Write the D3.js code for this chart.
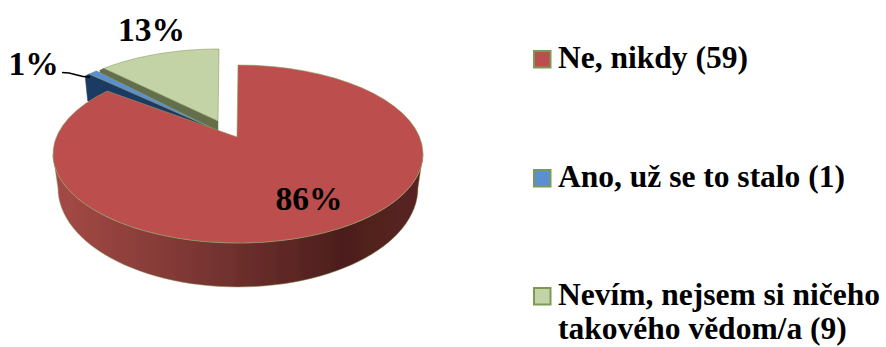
<!DOCTYPE html>
<html><head><meta charset="utf-8">
<script src="https://cdn.jsdelivr.net/npm/d3@7/dist/d3.min.js"></script>
<style>html,body{margin:0;background:#fff}svg{display:block}text{font-family:"Liberation Serif","Times New Roman",serif;font-weight:bold;fill:#000}</style>
</head><body><script>
const categories = ["Ne, nikdy (59)", "Ano, už se to stalo (1)", "Nevím, nejsem si ničeho|takového vědom/a (9)"];
const values = [59, 1, 9];
const percentLabels = ["86%", "1%", "13%"];
const topColors = ["#bc4f4d", "#5a8fd2", "#c3d3a6"];
const sideColors = ["#7a3431", "#1f3a62", "#636e4b"];

const W = 886, H = 347;
const svg = d3.select("body").append("svg").attr("width", W).attr("height", H);
const defs = svg.append("defs");
const blur = defs.append("filter").attr("id", "soft");
blur.append("feGaussianBlur").attr("stdDeviation", 0.45);
const grad = defs.append("linearGradient").attr("id", "redSide").attr("gradientUnits", "userSpaceOnUse")
  .attr("x1", 55).attr("x2", 423).attr("y1", 0).attr("y2", 0);
[[0, "#a54a46"], [0.35, "#7f3835"], [0.78, "#4c1e1c"], [1, "#5a2522"]].forEach(s =>
  grad.append("stop").attr("offset", s[0]).attr("stop-color", s[1]));

// projection of the tilted pie
const cx = 238, cy = 154, rx = 185, ry = 89, apexLift = -17;
const pie = d3.pie().sort(null).value(d => d);
const arcs = pie(values);
const deg = r => r * 180 / Math.PI;
// the 3D perspective stretches the data angle into a screen angle
const a0 = deg(arcs[0].endAngle), a1 = deg(arcs[1].endAngle);
const view = d3.scaleLinear().domain([0, a0, a1, 360]).range([0, 315, 318, 360]);
const gapToGreen = 3.5;
const depth = d3.scaleLinear().domain([65, 243]).range([24, 44]);
const shrink = 0.973;

const explode = [[0, 0], [-18, -17], [-19, -16]];
const apexShift = [[0, 0], [-25, -9], [-19, -16]];
const pt = (deg_, o) => {
  const t = deg_ * Math.PI / 180;
  return [cx + rx * Math.sin(t) + o[0], cy - ry * Math.cos(t) + o[1]];
};
const low = (p, o) => {
  const y0 = p[1] - o[1], x0 = p[0] - o[0];
  return [cx + (x0 - cx) * shrink + o[0], y0 + depth(y0) + o[1]];
};
const line = d3.line();
const range = (s, e) => d3.range(0, 61).map(i => s + (e - s) * i / 60);
const chart = svg.append("g").attr("filter", "url(#soft)");
const edge = "#8f9a63";

function wedge(i, pad) {
  const o = explode[i], c = apexShift[i];
  const s = view(deg(arcs[i].startAngle)) + pad, e = view(deg(arcs[i].endAngle));
  const apex = [cx + c[0] - 1, cy + apexLift + c[1]];
  const outer = range(s, e).map(d => pt(d, o));
  // cut face seen on the upper side of the slice
  const first = outer[0];
  const lowFirst = low(first, o);
  chart.append("path")
    .attr("d", line([first, apex, [apex[0], apex[1] + 12], [lowFirst[0] - 5, lowFirst[1]], [first[0] - 4, first[1] + 2]]) + "Z")
    .attr("fill", sideColors[i]).attr("stroke", sideColors[i]).attr("stroke-width", 0.5);
  chart.append("path")
    .attr("d", line([apex, ...outer]) + "Z")
    .attr("fill", topColors[i]).attr("stroke", edge).attr("stroke-width", 0.6);
}
wedge(2, gapToGreen);
wedge(1, 0);

// big slice: rim first, then the top face
const front = range(90, 270).map(d => pt(d, explode[0]));
const rim = [...front, ...front.slice().reverse().map(p => low(p, explode[0]))];
chart.append("path").attr("d", line(rim) + "Z").attr("fill", "url(#redSide)")
  .attr("stroke", edge).attr("stroke-width", 0.5);
const redEnd = view(deg(arcs[0].endAngle));
chart.append("path")
  .attr("d", line([[cx - 1, cy + apexLift], ...range(0, redEnd).map(d => pt(d, explode[0]))]) + "Z")
  .attr("fill", topColors[0]).attr("stroke", edge).attr("stroke-width", 0.6);

// leader line of the smallest slice
svg.append("path").attr("d", d3.line().curve(d3.curveBumpX)([[62, 72.5], [90, 77]]))
  .attr("fill", "none").attr("stroke", "#000").attr("stroke-width", 1.4);

// percentage labels
const labelSpots = [[309, 210], [33.5, 75], [151.5, 41]];
svg.selectAll("text.pct").data(percentLabels).join("text").attr("class", "pct")
  .attr("x", (d, i) => labelSpots[i][0]).attr("y", (d, i) => labelSpots[i][1])
  .attr("text-anchor", "middle").attr("font-size", 33.5).text(d => d);

// legend
const legendY = [68, 187, 305];
const item = svg.selectAll("g.leg").data(categories).join("g").attr("class", "leg");
item.append("rect").attr("x", 534).attr("y", (d, i) => legendY[i] - 17).attr("width", 16.5).attr("height", 16.5)
  .attr("fill", (d, i) => topColors[i]).attr("stroke", "#7d9a55").attr("stroke-width", 2);
item.each(function (d, i) {
  d.split("|").forEach((t, j) => d3.select(this).append("text")
    .attr("x", 558).attr("y", legendY[i] + j * 34).attr("font-size", 31.5).text(t));
});
</script></body></html>
